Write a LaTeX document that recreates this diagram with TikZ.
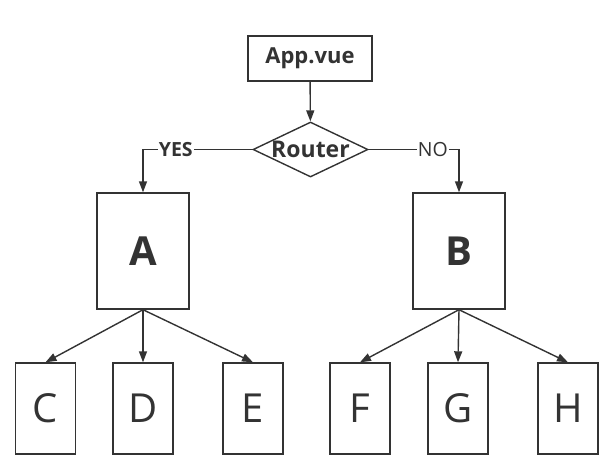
\documentclass[tikz,border=0pt]{standalone}
\usepackage{fontspec}
\setmainfont{Open Sans}
\usepackage{tikz}
\usetikzlibrary{arrows.meta}
\usetikzlibrary{shapes.geometric}
\definecolor{ink}{HTML}{333333}
\tikzset{box/.style={rectangle,draw=ink,line width=1.4pt,text=ink,inner sep=0pt}}
\tikzset{
bigbox/.style={box,minimum width=92pt,minimum height=116pt,font=\fontsize{40}{40}\selectfont\bfseries},
leafbox/.style={box,minimum width=60pt,minimum height=91pt,font=\fontsize{40}{40}\selectfont},
choice/.style={diamond,draw=ink,line width=1.4pt,inner sep=0pt,minimum width=115pt,minimum height=55pt},
link/.style={draw=ink,line width=1.4pt,-{Triangle[length=11pt,width=8pt]}},
tag/.style={fill=white,text=ink,inner sep=1pt,font=\fontsize{19.5}{20}\selectfont}
}

\begin{document}
\begin{tikzpicture}[x=1pt,y=-1pt]
\useasboundingbox (0,0) rectangle (611,469);

\node[box,minimum width=124pt,minimum height=45pt,font=\fontsize{22}{22}\selectfont\bfseries] (app) at (310, 58.5) {App.vue};
\node[choice,label={[text=ink,font=\fontsize{23}{23}\selectfont\bfseries]center:Router}] (router) at (310.5, 149.5) {};

\node[bigbox] (A) at (143, 251) {A};
\node[bigbox] (B) at (459, 251) {B};

\draw[link] (app) -- (router);
\draw[link] (router.west) -| node[tag,pos=0.35] {\bfseries YES} (A.north);
\draw[link] (router.east) -| node[tag,pos=0.355] {NO} (B.north);

% leaves
\foreach \name/\x/\parent in {C/45.5/A, D/143/A, E/253/A, F/360/B, G/458/B, H/568/B}
 {
 \node[leafbox] (\name) at (\x, 408.5) {\name};
 \draw[link] (\parent.south) -- (\name.north);
 }

\end{tikzpicture}
\end{document}
